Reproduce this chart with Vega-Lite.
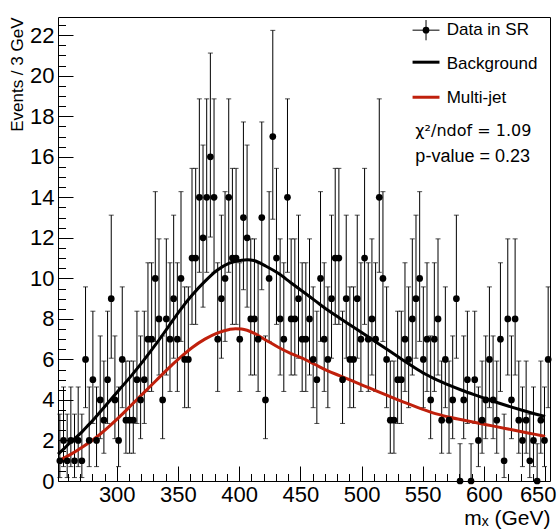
{
  "$schema": "https://vega.github.io/schema/vega-lite/v6.json",
  "width": 492,
  "height": 464,
  "autosize": {"type": "none"},
  "padding": {"left": 58, "top": 17, "right": 8, "bottom": 50},
  "background": "white",
  "config": {
    "view": {"stroke": "black", "strokeWidth": 1},
    "font": "Liberation Sans",
    "axis": {
      "domain": false,
      "grid": false,
      "tickColor": "black",
      "tickWidth": 1,
      "labelColor": "black",
      "titleColor": "black",
      "labelFont": "Liberation Sans",
      "titleFont": "Liberation Sans",
      "titleFontWeight": "normal"
    }
  },
  "datasets": {
    "hist": [
      {"m":253.5,"n":1,"lo":0.17,"hi":3.3},
      {"m":256.5,"n":2,"lo":0.71,"hi":4.64},
      {"m":259.5,"n":1,"lo":0.17,"hi":3.3},
      {"m":262.5,"n":2,"lo":0.71,"hi":4.64},
      {"m":265.5,"n":1,"lo":0.17,"hi":3.3},
      {"m":268.5,"n":2,"lo":0.71,"hi":4.64},
      {"m":271.5,"n":1,"lo":0.17,"hi":3.3},
      {"m":274.5,"n":6,"lo":3.62,"hi":9.58},
      {"m":277.5,"n":2,"lo":0.71,"hi":4.64},
      {"m":280.5,"n":5,"lo":2.84,"hi":8.38},
      {"m":283.5,"n":2,"lo":0.71,"hi":4.64},
      {"m":286.5,"n":4,"lo":2.09,"hi":7.16},
      {"m":289.5,"n":3,"lo":1.37,"hi":5.92},
      {"m":292.5,"n":5,"lo":2.84,"hi":8.38},
      {"m":295.5,"n":9,"lo":6.06,"hi":13.12},
      {"m":298.5,"n":4,"lo":2.09,"hi":7.16},
      {"m":301.5,"n":2,"lo":0.71,"hi":4.64},
      {"m":304.5,"n":6,"lo":3.62,"hi":9.58},
      {"m":307.5,"n":3,"lo":1.37,"hi":5.92},
      {"m":310.5,"n":3,"lo":1.37,"hi":5.92},
      {"m":313.5,"n":3,"lo":1.37,"hi":5.92},
      {"m":316.5,"n":5,"lo":2.84,"hi":8.38},
      {"m":319.5,"n":4,"lo":2.09,"hi":7.16},
      {"m":322.5,"n":5,"lo":2.84,"hi":8.38},
      {"m":325.5,"n":7,"lo":4.42,"hi":10.77},
      {"m":328.5,"n":7,"lo":4.42,"hi":10.77},
      {"m":331.5,"n":10,"lo":6.89,"hi":14.28},
      {"m":334.5,"n":8,"lo":5.23,"hi":11.95},
      {"m":337.5,"n":4,"lo":2.09,"hi":7.16},
      {"m":340.5,"n":8,"lo":5.23,"hi":11.95},
      {"m":343.5,"n":7,"lo":4.42,"hi":10.77},
      {"m":346.5,"n":9,"lo":6.06,"hi":13.12},
      {"m":349.5,"n":7,"lo":4.42,"hi":10.77},
      {"m":352.5,"n":10,"lo":6.89,"hi":14.28},
      {"m":355.5,"n":6,"lo":3.62,"hi":9.58},
      {"m":358.5,"n":6,"lo":3.62,"hi":9.58},
      {"m":361.5,"n":11,"lo":7.73,"hi":15.43},
      {"m":364.5,"n":11,"lo":7.73,"hi":15.43},
      {"m":367.5,"n":14,"lo":10.3,"hi":18.86},
      {"m":370.5,"n":12,"lo":8.58,"hi":16.58},
      {"m":373.5,"n":14,"lo":10.3,"hi":18.86},
      {"m":376.5,"n":16,"lo":12.04,"hi":21.12},
      {"m":379.5,"n":14,"lo":10.3,"hi":18.86},
      {"m":382.5,"n":7,"lo":4.42,"hi":10.77},
      {"m":385.5,"n":9,"lo":6.06,"hi":13.12},
      {"m":388.5,"n":10,"lo":6.89,"hi":14.28},
      {"m":391.5,"n":14,"lo":10.3,"hi":18.86},
      {"m":394.5,"n":11,"lo":7.73,"hi":15.43},
      {"m":397.5,"n":11,"lo":7.73,"hi":15.43},
      {"m":400.5,"n":7,"lo":4.42,"hi":10.77},
      {"m":403.5,"n":13,"lo":9.44,"hi":17.72},
      {"m":406.5,"n":12,"lo":8.58,"hi":16.58},
      {"m":409.5,"n":8,"lo":5.23,"hi":11.95},
      {"m":412.5,"n":8,"lo":5.23,"hi":11.95},
      {"m":415.5,"n":7,"lo":4.42,"hi":10.77},
      {"m":418.5,"n":13,"lo":9.44,"hi":17.72},
      {"m":421.5,"n":4,"lo":2.09,"hi":7.16},
      {"m":424.5,"n":10,"lo":6.89,"hi":14.28},
      {"m":427.5,"n":17,"lo":12.92,"hi":22.24},
      {"m":430.5,"n":11,"lo":7.73,"hi":15.43},
      {"m":433.5,"n":8,"lo":5.23,"hi":11.95},
      {"m":436.5,"n":7,"lo":4.42,"hi":10.77},
      {"m":439.5,"n":14,"lo":10.3,"hi":18.86},
      {"m":442.5,"n":8,"lo":5.23,"hi":11.95},
      {"m":445.5,"n":8,"lo":5.23,"hi":11.95},
      {"m":448.5,"n":9,"lo":6.06,"hi":13.12},
      {"m":451.5,"n":7,"lo":4.42,"hi":10.77},
      {"m":454.5,"n":7,"lo":4.42,"hi":10.77},
      {"m":457.5,"n":8,"lo":5.23,"hi":11.95},
      {"m":460.5,"n":6,"lo":3.62,"hi":9.58},
      {"m":463.5,"n":5,"lo":2.84,"hi":8.38},
      {"m":466.5,"n":10,"lo":6.89,"hi":14.28},
      {"m":469.5,"n":7,"lo":4.42,"hi":10.77},
      {"m":472.5,"n":6,"lo":3.62,"hi":9.58},
      {"m":475.5,"n":9,"lo":6.06,"hi":13.12},
      {"m":478.5,"n":11,"lo":7.73,"hi":15.43},
      {"m":481.5,"n":11,"lo":7.73,"hi":15.43},
      {"m":484.5,"n":5,"lo":2.84,"hi":8.38},
      {"m":487.5,"n":9,"lo":6.06,"hi":13.12},
      {"m":490.5,"n":6,"lo":3.62,"hi":9.58},
      {"m":493.5,"n":6,"lo":3.62,"hi":9.58},
      {"m":496.5,"n":9,"lo":6.06,"hi":13.12},
      {"m":499.5,"n":7,"lo":4.42,"hi":10.77},
      {"m":502.5,"n":11,"lo":7.73,"hi":15.43},
      {"m":505.5,"n":7,"lo":4.42,"hi":10.77},
      {"m":508.5,"n":8,"lo":5.23,"hi":11.95},
      {"m":511.5,"n":7,"lo":4.42,"hi":10.77},
      {"m":514.5,"n":14,"lo":10.3,"hi":18.86},
      {"m":517.5,"n":10,"lo":6.89,"hi":14.28},
      {"m":520.5,"n":6,"lo":3.62,"hi":9.58},
      {"m":523.5,"n":3,"lo":1.37,"hi":5.92},
      {"m":526.5,"n":3,"lo":1.37,"hi":5.92},
      {"m":529.5,"n":5,"lo":2.84,"hi":8.38},
      {"m":532.5,"n":5,"lo":2.84,"hi":8.38},
      {"m":535.5,"n":7,"lo":4.42,"hi":10.77},
      {"m":538.5,"n":6,"lo":3.62,"hi":9.58},
      {"m":541.5,"n":8,"lo":5.23,"hi":11.95},
      {"m":544.5,"n":9,"lo":6.06,"hi":13.12},
      {"m":547.5,"n":10,"lo":6.89,"hi":14.28},
      {"m":550.5,"n":6,"lo":3.62,"hi":9.58},
      {"m":553.5,"n":7,"lo":4.42,"hi":10.77},
      {"m":556.5,"n":4,"lo":2.09,"hi":7.16},
      {"m":559.5,"n":7,"lo":4.42,"hi":10.77},
      {"m":562.5,"n":8,"lo":5.23,"hi":11.95},
      {"m":565.5,"n":3,"lo":1.37,"hi":5.92},
      {"m":568.5,"n":6,"lo":3.62,"hi":9.58},
      {"m":571.5,"n":3,"lo":1.37,"hi":5.92},
      {"m":574.5,"n":4,"lo":2.09,"hi":7.16},
      {"m":577.5,"n":9,"lo":6.06,"hi":13.12},
      {"m":580.5,"n":0,"lo":0,"hi":1.84},
      {"m":583.5,"n":4,"lo":2.09,"hi":7.16},
      {"m":586.5,"n":5,"lo":2.84,"hi":8.38},
      {"m":589.5,"n":0,"lo":0,"hi":1.84},
      {"m":592.5,"n":5,"lo":2.84,"hi":8.38},
      {"m":595.5,"n":2,"lo":0.71,"hi":4.64},
      {"m":598.5,"n":3,"lo":1.37,"hi":5.92},
      {"m":601.5,"n":4,"lo":2.09,"hi":7.16},
      {"m":604.5,"n":6,"lo":3.62,"hi":9.58},
      {"m":607.5,"n":4,"lo":2.09,"hi":7.16},
      {"m":610.5,"n":3,"lo":1.37,"hi":5.92},
      {"m":613.5,"n":7,"lo":4.42,"hi":10.77},
      {"m":616.5,"n":1,"lo":0.17,"hi":3.3},
      {"m":619.5,"n":8,"lo":5.23,"hi":11.95},
      {"m":622.5,"n":4,"lo":2.09,"hi":7.16},
      {"m":625.5,"n":8,"lo":5.23,"hi":11.95},
      {"m":628.5,"n":3,"lo":1.37,"hi":5.92},
      {"m":631.5,"n":2,"lo":0.71,"hi":4.64},
      {"m":634.5,"n":3,"lo":1.37,"hi":5.92},
      {"m":637.5,"n":1,"lo":0.17,"hi":3.3},
      {"m":640.5,"n":2,"lo":0.71,"hi":4.64},
      {"m":643.5,"n":0,"lo":0,"hi":1.84},
      {"m":646.5,"n":3,"lo":1.37,"hi":5.92},
      {"m":649.5,"n":2,"lo":0.71,"hi":4.64},
      {"m":652.5,"n":6,"lo":3.62,"hi":9.58}
    ],
    "curves": [
      {"m":252,"y":1.33,"c":"Background"},{"m":257,"y":1.6,"c":"Background"},{"m":262,"y":1.9,"c":"Background"},
      {"m":267,"y":2.17,"c":"Background"},{"m":272,"y":2.45,"c":"Background"},{"m":277,"y":2.77,"c":"Background"},
      {"m":282,"y":3.1,"c":"Background"},{"m":292,"y":3.8,"c":"Background"},{"m":302,"y":4.5,"c":"Background"},
      {"m":312,"y":5.2,"c":"Background"},{"m":322,"y":5.95,"c":"Background"},{"m":332,"y":6.75,"c":"Background"},
      {"m":342,"y":7.6,"c":"Background"},{"m":352,"y":8.45,"c":"Background"},{"m":362,"y":9.2,"c":"Background"},
      {"m":372,"y":9.85,"c":"Background"},{"m":382,"y":10.4,"c":"Background"},{"m":392,"y":10.75,"c":"Background"},
      {"m":402,"y":10.9,"c":"Background"},{"m":407,"y":10.92,"c":"Background"},{"m":412,"y":10.88,"c":"Background"},
      {"m":422,"y":10.6,"c":"Background"},{"m":432,"y":10.25,"c":"Background"},{"m":442,"y":9.8,"c":"Background"},
      {"m":452,"y":9.35,"c":"Background"},{"m":462,"y":8.9,"c":"Background"},{"m":472,"y":8.45,"c":"Background"},
      {"m":482,"y":8.05,"c":"Background"},{"m":492,"y":7.65,"c":"Background"},{"m":502,"y":7.25,"c":"Background"},
      {"m":512,"y":6.85,"c":"Background"},{"m":522,"y":6.45,"c":"Background"},{"m":532,"y":6.05,"c":"Background"},
      {"m":542,"y":5.65,"c":"Background"},{"m":552,"y":5.28,"c":"Background"},{"m":562,"y":4.98,"c":"Background"},
      {"m":572,"y":4.72,"c":"Background"},{"m":582,"y":4.48,"c":"Background"},{"m":592,"y":4.26,"c":"Background"},
      {"m":602,"y":4.05,"c":"Background"},{"m":612,"y":3.85,"c":"Background"},{"m":622,"y":3.66,"c":"Background"},
      {"m":632,"y":3.48,"c":"Background"},{"m":642,"y":3.31,"c":"Background"},{"m":650,"y":3.18,"c":"Background"},
      {"m":252,"y":0.98,"c":"Multi-jet"},{"m":262,"y":1.3,"c":"Multi-jet"},{"m":272,"y":1.68,"c":"Multi-jet"},
      {"m":282,"y":2.1,"c":"Multi-jet"},{"m":292,"y":2.6,"c":"Multi-jet"},{"m":302,"y":3.15,"c":"Multi-jet"},
      {"m":312,"y":3.75,"c":"Multi-jet"},{"m":322,"y":4.35,"c":"Multi-jet"},{"m":332,"y":4.95,"c":"Multi-jet"},
      {"m":342,"y":5.55,"c":"Multi-jet"},{"m":352,"y":6.1,"c":"Multi-jet"},{"m":362,"y":6.6,"c":"Multi-jet"},
      {"m":372,"y":7.0,"c":"Multi-jet"},{"m":382,"y":7.3,"c":"Multi-jet"},{"m":392,"y":7.48,"c":"Multi-jet"},
      {"m":397,"y":7.52,"c":"Multi-jet"},{"m":402,"y":7.5,"c":"Multi-jet"},{"m":412,"y":7.3,"c":"Multi-jet"},
      {"m":422,"y":6.95,"c":"Multi-jet"},{"m":432,"y":6.6,"c":"Multi-jet"},{"m":442,"y":6.3,"c":"Multi-jet"},
      {"m":452,"y":6.05,"c":"Multi-jet"},{"m":462,"y":5.75,"c":"Multi-jet"},{"m":472,"y":5.45,"c":"Multi-jet"},
      {"m":482,"y":5.2,"c":"Multi-jet"},{"m":492,"y":4.95,"c":"Multi-jet"},{"m":502,"y":4.7,"c":"Multi-jet"},
      {"m":512,"y":4.45,"c":"Multi-jet"},{"m":522,"y":4.2,"c":"Multi-jet"},{"m":532,"y":3.95,"c":"Multi-jet"},
      {"m":542,"y":3.72,"c":"Multi-jet"},{"m":552,"y":3.5,"c":"Multi-jet"},{"m":562,"y":3.3,"c":"Multi-jet"},
      {"m":572,"y":3.15,"c":"Multi-jet"},{"m":582,"y":3.02,"c":"Multi-jet"},{"m":592,"y":2.9,"c":"Multi-jet"},
      {"m":602,"y":2.78,"c":"Multi-jet"},{"m":612,"y":2.66,"c":"Multi-jet"},{"m":622,"y":2.54,"c":"Multi-jet"},
      {"m":632,"y":2.42,"c":"Multi-jet"},{"m":642,"y":2.3,"c":"Multi-jet"},{"m":650,"y":2.2,"c":"Multi-jet"}
    ],
    "legendLines": [
      {"m":541.7,"m2":563.7,"y":20.67,"c":"Background"},
      {"m":541.7,"m2":563.7,"y":18.94,"c":"Multi-jet"}
    ],
    "legendData": [
      {"m":552.7,"y":22.25,"lo":21.75,"hi":22.75,"m1":541.7,"m2":563.7}
    ],
    "legendText": [
      {"m":569.6,"y":22.25,"t":"Data in SR"},
      {"m":569.6,"y":20.6,"t":"Background"},
      {"m":569.6,"y":18.9,"t":"Multi-jet"}
    ],
    "fitText": [
      {"m":544,"y":15.98,"t":"p-value = 0.23"}
    ],
    "chiText": [
      {"m":544,"y":17.26,"t":"χ²/ndof = 1.09"}
    ]
  },
  "resolve": {"axis": {"x": "independent", "y": "independent"}},
  "layer": [
    {
      "data": {"name": "hist"},
      "mark": {"type": "rule", "color": "black", "strokeWidth": 1},
      "encoding": {
        "x": {
          "field": "m", "type": "quantitative",
          "scale": {"domain": [252, 654], "nice": false, "zero": false},
          "axis": {
            "orient": "bottom",
            "values": [300, 350, 400, 450, 500, 550, 600, 650],
            "tickSize": -15,
            "labelFontSize": 22,
            "labelPadding": 18,
            "labelFlush": 8,
            "labelFlushOffset": 11,
            "labelOverlap": false,
            "title": "mₓ (GeV)",
            "titleFontSize": 21,
            "titleAnchor": "end",
            "titlePadding": 2
          }
        },
        "y": {
          "field": "lo", "type": "quantitative",
          "scale": {"domain": [0, 22.9], "nice": false, "zero": true},
          "axis": {
            "orient": "left",
            "values": [0, 2, 4, 6, 8, 10, 12, 14, 16, 18, 20, 22],
            "tickSize": -15,
            "labelFontSize": 22,
            "labelPadding": 19,
            "labelOverlap": false,
            "title": "Events / 3 GeV",
            "titleFontSize": 17,
            "titleAnchor": "end",
            "titlePadding": 3
          }
        },
        "y2": {"field": "hi"}
      }
    },
    {
      "data": {"name": "hist"},
      "mark": {"type": "tick", "orient": "horizontal", "size": 5, "thickness": 1, "color": "black"},
      "encoding": {
        "x": {
          "field": "m", "type": "quantitative",
          "axis": {
            "orient": "bottom",
            "values": [260, 270, 280, 290, 310, 320, 330, 340, 360, 370, 380, 390, 410, 420, 430, 440, 460, 470, 480, 490, 510, 520, 530, 540, 560, 570, 580, 590, 610, 620, 630, 640],
            "tickSize": -7.5,
            "labels": false,
            "title": null
          }
        },
        "y": {
          "field": "hi", "type": "quantitative",
          "axis": {
            "orient": "left",
            "values": [0.5, 1, 1.5, 2.5, 3, 3.5, 4.5, 5, 5.5, 6.5, 7, 7.5, 8.5, 9, 9.5, 10.5, 11, 11.5, 12.5, 13, 13.5, 14.5, 15, 15.5, 16.5, 17, 17.5, 18.5, 19, 19.5, 20.5, 21, 21.5, 22.5],
            "tickSize": -7.5,
            "labels": false,
            "title": null
          }
        }
      }
    },
    {
      "data": {"name": "hist"},
      "mark": {"type": "tick", "orient": "horizontal", "size": 5, "thickness": 1, "color": "black"},
      "encoding": {
        "x": {"field": "m", "type": "quantitative", "axis": null},
        "y": {"field": "lo", "type": "quantitative", "axis": null}
      }
    },
    {
      "data": {"name": "curves"},
      "mark": {"type": "line", "strokeWidth": 3, "interpolate": "monotone"},
      "encoding": {
        "x": {"field": "m", "type": "quantitative", "axis": null},
        "y": {"field": "y", "type": "quantitative", "axis": null},
        "color": {
          "field": "c", "type": "nominal",
          "scale": {"domain": ["Background", "Multi-jet"], "range": ["#000000", "#c0200c"]},
          "legend": null
        }
      }
    },
    {
      "data": {"name": "hist"},
      "mark": {"type": "circle", "size": 45, "color": "black", "opacity": 1},
      "encoding": {
        "x": {"field": "m", "type": "quantitative", "axis": null},
        "y": {"field": "n", "type": "quantitative", "axis": null}
      }
    },
    {
      "data": {"name": "legendLines"},
      "mark": {"type": "rule", "strokeWidth": 3},
      "encoding": {
        "x": {"field": "m", "type": "quantitative", "axis": null},
        "x2": {"field": "m2"},
        "y": {"field": "y", "type": "quantitative", "axis": null},
        "color": {"field": "c", "type": "nominal", "legend": null}
      }
    },
    {
      "data": {"name": "legendData"},
      "mark": {"type": "rule", "strokeWidth": 1, "color": "black"},
      "encoding": {
        "x": {"field": "m1", "type": "quantitative", "axis": null},
        "x2": {"field": "m2"},
        "y": {"field": "y", "type": "quantitative", "axis": null}
      }
    },
    {
      "data": {"name": "legendData"},
      "mark": {"type": "rule", "strokeWidth": 1, "color": "black"},
      "encoding": {
        "x": {"field": "m", "type": "quantitative", "axis": null},
        "y": {"field": "lo", "type": "quantitative", "axis": null},
        "y2": {"field": "hi"}
      }
    },
    {
      "data": {"name": "legendData"},
      "mark": {"type": "circle", "size": 45, "color": "black", "opacity": 1},
      "encoding": {
        "x": {"field": "m", "type": "quantitative", "axis": null},
        "y": {"field": "y", "type": "quantitative", "axis": null}
      }
    },
    {
      "data": {"name": "legendText"},
      "mark": {"type": "text", "align": "left", "baseline": "middle", "fontSize": 17, "font": "Liberation Sans", "color": "black"},
      "encoding": {
        "x": {"field": "m", "type": "quantitative", "axis": null},
        "y": {"field": "y", "type": "quantitative", "axis": null},
        "text": {"field": "t"}
      }
    },
    {
      "data": {"name": "fitText"},
      "mark": {"type": "text", "align": "left", "baseline": "middle", "fontSize": 18, "font": "Liberation Sans", "color": "black"},
      "encoding": {
        "x": {"field": "m", "type": "quantitative", "axis": null},
        "y": {"field": "y", "type": "quantitative", "axis": null},
        "text": {"field": "t"}
      }
    },
    {
      "data": {"name": "chiText"},
      "mark": {"type": "text", "align": "left", "baseline": "middle", "fontSize": 16, "font": "DejaVu Sans", "color": "black"},
      "encoding": {
        "x": {"field": "m", "type": "quantitative", "axis": null},
        "y": {"field": "y", "type": "quantitative", "axis": null},
        "text": {"field": "t"}
      }
    }
  ]
}
